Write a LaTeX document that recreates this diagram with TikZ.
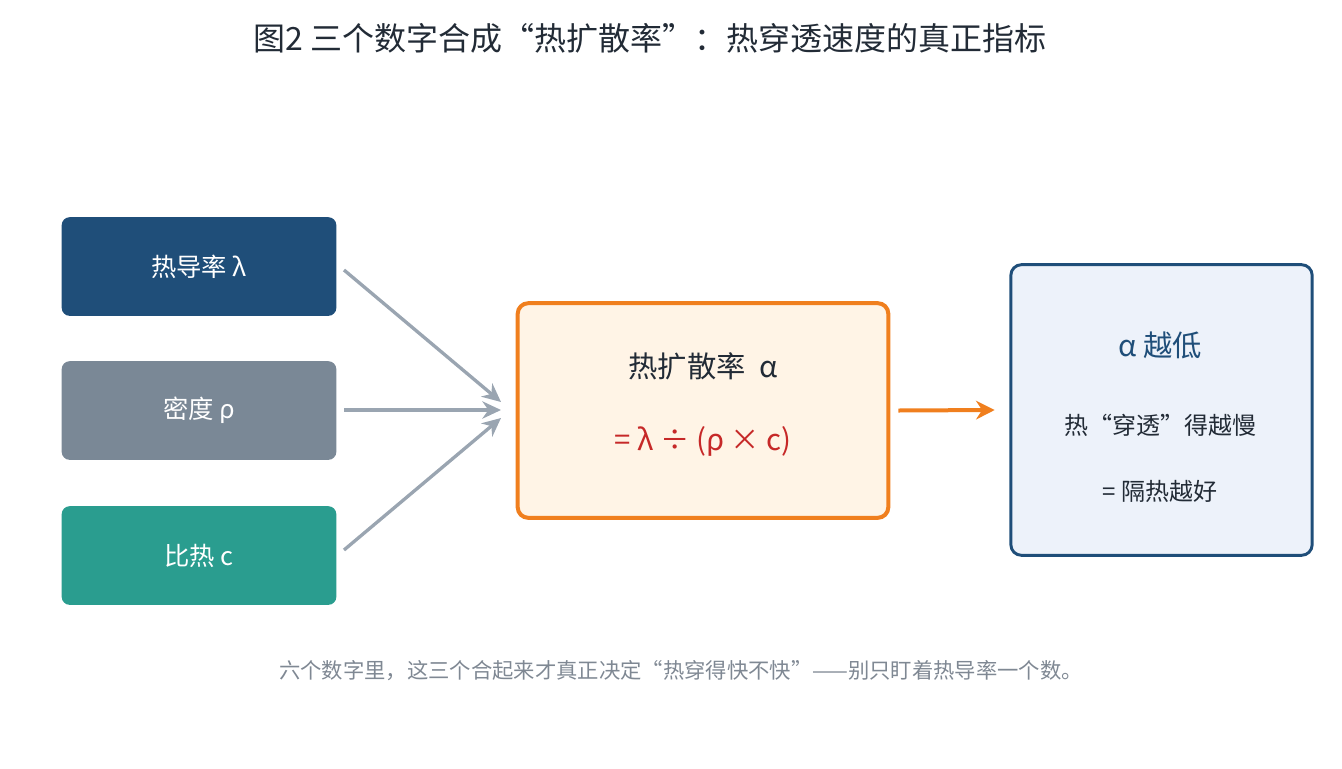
\documentclass[tikz,border=0pt]{standalone}
\usepackage{fontspec}
\setmainfont{Noto Sans CJK SC}
\usetikzlibrary{arrows.meta}
\definecolor{dblue}{HTML}{1F4E79}
\definecolor{gray1}{HTML}{7A8896}
\definecolor{teal1}{HTML}{2A9D8F}
\definecolor{orng}{HTML}{F07F1E}
\definecolor{cream}{HTML}{FFF4E6}
\definecolor{lblue}{HTML}{EDF2FA}
\definecolor{arr}{HTML}{9AA5B1}
\definecolor{red1}{HTML}{C62828}
\definecolor{txt}{HTML}{222B36}
\definecolor{cap}{HTML}{7F8893}
\begin{document}
\begin{tikzpicture}[x=0.75pt,y=-0.75pt,
 inbox/.style={rounded corners=6pt,text=white,font=\fontsize{19}{22}\selectfont,minimum width=206pt,minimum height=74pt,inner sep=0},
 garr/.style={draw=arr,line width=2.5pt,-{Stealth[length=14pt,width=13pt]}}]
\useasboundingbox (0,0) rectangle (1342,768);
\node[font=\fontsize{24}{28}\selectfont,text=txt] (title) at (650,38) {图2\ 三个数字合成“热扩散率”：热穿透速度的真正指标};
\node[inbox,fill=dblue] (a) at (199,266.5) {热导率 λ};
\node[inbox,fill=gray1] (b) at (199,410.5) {密度 ρ};
\node[inbox,fill=teal1] (c) at (199,555.5) {比热 c};
\node[draw=orng,line width=3pt,fill=cream,rounded corners=8pt,minimum width=278pt,minimum height=161pt] (m) at (703,410.5) {};
\node[font=\fontsize{22}{26}\selectfont,text=txt] (m1) at (703,366) {热扩散率\ \ α};
\node[font=\fontsize{22}{26}\selectfont,text=red1] (m2) at (703,441) {= λ ÷ (ρ × c)};
\node[draw=dblue,line width=2.2pt,fill=lblue,rounded corners=8pt,minimum width=226pt,minimum height=218pt] (r) at (1161.5,410) {};
\node[font=\fontsize{22}{26}\selectfont,text=dblue] (r1) at (1160,345) {α 越低};
\node[font=\fontsize{18}{22}\selectfont,text=txt] (r2) at (1160,425) {热“穿透”得越慢};
\node[font=\fontsize{18}{22}\selectfont,text=txt] (r3) at (1160,491) {= 隔热越好};
\coordinate (s1) at (344,270); \coordinate (e1) at (501,402);
\coordinate (s2) at (344,410); \coordinate (e2) at (501,410);
\coordinate (s3) at (344,550); \coordinate (e3) at (501,418);
\draw[garr] (s1) -- (e1);
\draw[garr] (s2) -- (e2);
\draw[garr] (s3) -- (e3);
\draw[draw=orng,line width=3pt,-{Stealth[length=14pt,width=14pt]}] (m.east)++(8,0) -- ([xshift=-11pt]r.west);
\node[font=\fontsize{16}{20}\selectfont,text=cap] (cp) at (681,671) {六个数字里，这三个合起来才真正决定“热穿得快不快”——别只盯着热导率一个数。};
\end{tikzpicture}
\end{document}
